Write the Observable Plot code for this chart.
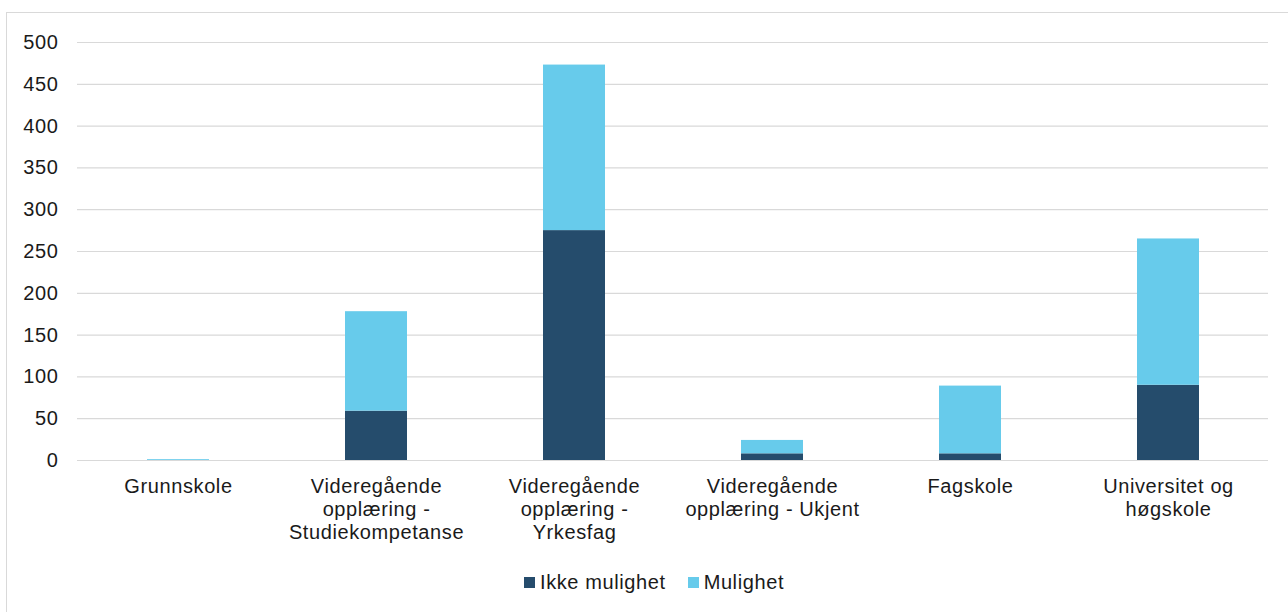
<!DOCTYPE html>
<html>
<head>
<meta charset="utf-8">
<script src="https://cdn.jsdelivr.net/npm/d3@7"></script>
<script src="https://cdn.jsdelivr.net/npm/@observablehq/plot@0.6"></script>
<style>
  html, body { margin: 0; padding: 0; background: #fff; }
  body { width: 1288px; height: 612px; position: relative; overflow: hidden; font-family: "Liberation Sans", Arial, sans-serif; }
  #frame { position: absolute; left: 6px; top: 12px; width: 1300px; height: 620px; border: 1px solid #d9d9d9; box-sizing: border-box; }
  #chart { position: absolute; left: 0; top: 0; }
  #chart text { letter-spacing: 0.6px; }
  #legend { position: absolute; left: 524px; top: 571px; display: flex; align-items: center; font-size: 20px; letter-spacing: 0.6px; color: #1a1a1a; }
  .item { display: flex; align-items: center; margin-right: 22px; }
  .sw { width: 11px; height: 11px; margin-right: 5px; }
</style>
</head>
<body>
<div id="frame"></div>
<div id="chart"></div>
<div id="legend"></div>
<script>
const categories = [
  "Grunnskole",
  "Videregående opplæring - Studiekompetanse",
  "Videregående opplæring - Yrkesfag",
  "Videregående opplæring - Ukjent",
  "Fagskole",
  "Universitet og høgskole"
];
const tickLabels = [
  "Grunnskole",
  "Videregående\nopplæring -\nStudiekompetanse",
  "Videregående\nopplæring -\nYrkesfag",
  "Videregående\nopplæring - Ukjent",
  "Fagskole",
  "Universitet og\nhøgskole"
];
const series = ["Ikke mulighet", "Mulighet"];
const ikkeMulighet = [0, 59, 275, 8, 8, 90];
const mulighet = [1, 119, 198, 16, 81, 175];
const yTicks = [0, 50, 100, 150, 200, 250, 300, 350, 400, 450, 500];
const colors = ["#254c6c", "#67cbeb"];

const data = [];
categories.forEach((c, i) => {
  data.push({category: c, series: series[0], value: ikkeMulighet[i]});
  data.push({category: c, series: series[1], value: mulighet[i]});
});
const labelOf = new Map(categories.map((c, i) => [c, tickLabels[i]]));

const chart = Plot.plot({
  width: 1288,
  height: 560,
  marginLeft: 77,
  marginRight: 20,
  marginTop: 42,
  marginBottom: 100,
  style: {fontFamily: "Liberation Sans, Arial, sans-serif", fontSize: "20px", color: "#1a1a1a", background: "transparent"},
  x: {domain: categories, paddingInner: 0.688, paddingOuter: 0.344, label: null},
  y: {domain: [0, 500], label: null},
  color: {domain: series, range: colors},
  marks: [
    Plot.ruleY(yTicks, {stroke: "#d9d9d9", strokeWidth: 1.2}),
    Plot.barY(data, Plot.stackY({x: "category", y: "value", fill: "series", order: series})),
    Plot.axisY(yTicks, {tickSize: 0, tickPadding: 19, fontSize: 20, label: null}),
    Plot.axisX({tickSize: 0, tickPadding: 16, fontSize: 20, lineHeight: 1.15, tickFormat: d => labelOf.get(d), label: null})
  ]
});
document.getElementById("chart").appendChild(chart);

const legend = document.getElementById("legend");
series.forEach((s, i) => {
  const item = document.createElement("div");
  item.className = "item";
  const sw = document.createElement("div");
  sw.className = "sw";
  sw.style.background = colors[i];
  const t = document.createElement("span");
  t.textContent = s;
  item.appendChild(sw);
  item.appendChild(t);
  legend.appendChild(item);
});
</script>
</body>
</html>
